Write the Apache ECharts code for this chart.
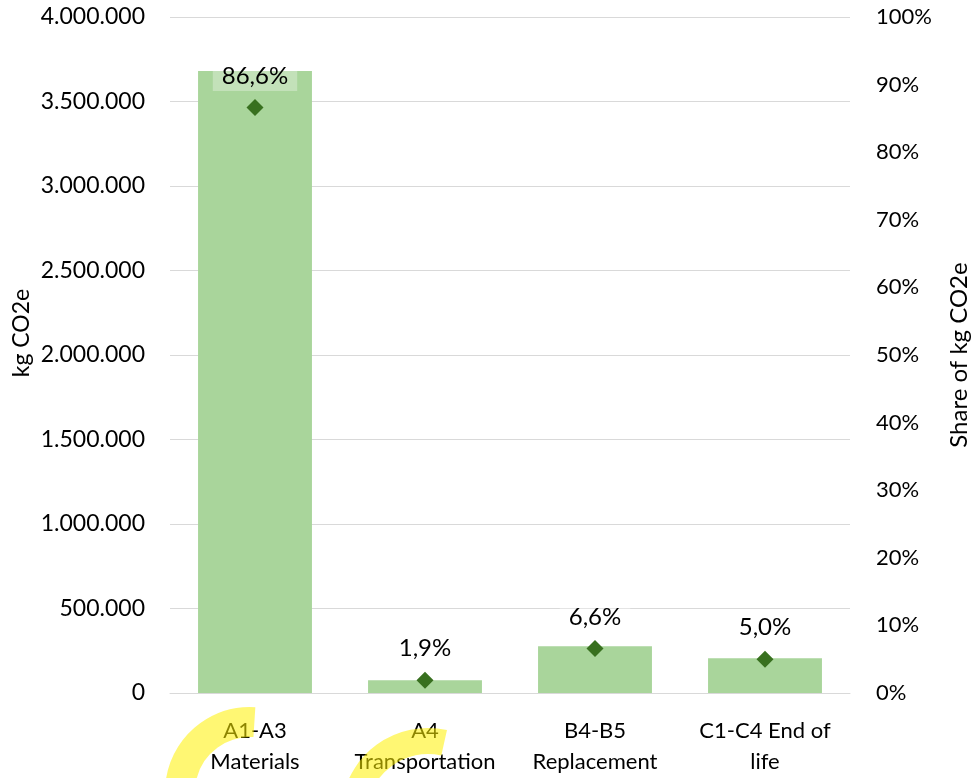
<!DOCTYPE html>
<html>
<head>
<meta charset="utf-8">
<script src="https://cdn.jsdelivr.net/npm/echarts@6/dist/echarts.min.js"></script>
<style>
  html, body { margin: 0; padding: 0; background: #fff; }
  #chart { width: 973px; height: 778px; }
</style>
</head>
<body>
<div id="chart"></div>
<script>
// data
const categories = ['A1-A3\nMaterials', 'A4\nTransportation', 'B4-B5\nReplacement', 'C1-C4 End of\nlife']
const emissions = [3680000, 76000, 276000, 206000]   // kg CO2e
const shares = [86.6, 1.9, 6.6, 5.0]                  // %
const leftTicks = { min: 0, max: 4000000, interval: 500000 }
const rightTicks = { min: 0, max: 100, interval: 10 }

const FONT = 'Lato'
const chart = echarts.init(document.getElementById('chart'))

// 1.234.567 style numbers
const fmtNum = (v) => String(v).replace(/\B(?=(\d{3})+(?!\d))/g, '.')

const option = {
  animation: false,
  textStyle: { fontFamily: FONT },
  grid: { left: 170, right: 123, top: 17, bottom: 85 },
  xAxis: {
    type: 'category',
    data: categories,
    axisLine: { lineStyle: { color: '#d9d9d9', width: 1 } },
    axisTick: { show: false },
    axisLabel: { color: '#000', fontSize: 22, lineHeight: 31, margin: 22, interval: 0 },
  },
  yAxis: [
    {
      type: 'value',
      ...leftTicks,
      axisLine: { show: false },
      axisTick: { show: false },
      splitLine: { lineStyle: { color: '#d9d9d9', width: 1 } },
      axisLabel: { color: '#000', fontSize: 23, margin: 25, formatter: fmtNum },
    },
    {
      type: 'value',
      ...rightTicks,
      axisLine: { show: false },
      axisTick: { show: false },
      splitLine: { show: false },
      axisLabel: { color: '#000', fontSize: 22, margin: 26, formatter: '{value}%' },
    },
  ],
  series: [
    {
      name: 'kg CO2e',
      type: 'bar',
      data: emissions,
      barWidth: '67%',
      itemStyle: { color: '#a9d59b' },
      z: 2,
    },
    {
      name: 'Share of kg CO2e',
      type: 'scatter',
      yAxisIndex: 1,
      data: shares,
      symbol: 'diamond',
      symbolSize: 17,
      itemStyle: { color: '#38701f', opacity: 1 },
      z: 3,
      label: {
        show: true,
        position: 'top',
        distance: 8,
        color: '#000',
        fontSize: 24,
        padding: [3, 9],
        backgroundColor: 'rgba(255,255,255,0.3)',
        formatter: (p) => p.value.toFixed(1).replace('.', ',') + '%',
      },
    },
  ],
  graphic: [
    {
      type: 'text',
      x: 22, y: 333,
      rotation: Math.PI / 2,
      style: { text: 'kg CO2e', fontFamily: FONT, fontSize: 23, fill: '#000', align: 'center', verticalAlign: 'middle' },
    },
    {
      type: 'text',
      x: 959, y: 355,
      rotation: Math.PI / 2,
      style: { text: 'Share of kg CO2e', fontFamily: FONT, fontSize: 24, fill: '#000', align: 'center', verticalAlign: 'middle' },
    },
    // yellow marker strokes over the category labels
    {
      type: 'arc',
      z: 100,
      shape: { cx: 250, cy: 792, r: 70, startAngle: Math.PI * 0.8, endAngle: Math.PI * 1.52, clockwise: true },
      style: { stroke: 'rgba(255,240,0,0.55)', lineWidth: 30, fill: null },
    },
    {
      type: 'arc',
      z: 100,
      shape: { cx: 428, cy: 815, r: 74, startAngle: Math.PI * 0.8, endAngle: Math.PI * 1.57, clockwise: true },
      style: { stroke: 'rgba(255,240,0,0.55)', lineWidth: 26, fill: null },
    },
  ],
}

chart.setOption(option)
</script>
</body>
</html>
